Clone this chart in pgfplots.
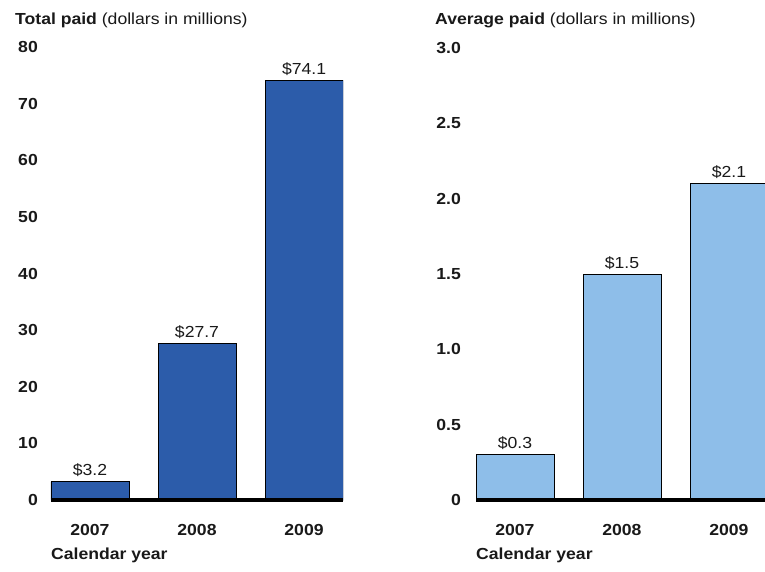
\documentclass[border=0pt]{standalone}
\usepackage{pgfplots}
\pgfplotsset{compat=1.18}
\usepackage{fontspec}
\setmainfont{Liberation Sans}[FakeStretch=1.1]
\definecolor{darkbar}{RGB}{44,92,170}
\definecolor{lightbar}{RGB}{142,190,233}
\definecolor{txt}{RGB}{25,25,25}
\begin{document}
\fontsize{16}{18}\selectfont
\begin{tikzpicture}
\useasboundingbox (0,0) rectangle (765pt,571pt);
\pgfplotsset{
 panel/.style={
  scale only axis, anchor=south west,
  xmin=-0.364, ymin=0,
  axis x line*=bottom, axis y line*=left,
  y axis line style={draw=none},
  x axis line style={line width=3.5pt, black},
  major tick length=0pt,
  xtick={0,1,2}, xticklabels={2007,2008,2009},
  xticklabel style={anchor=base, inner sep=0pt, yshift=-35pt, font=\fontsize{16}{18}\selectfont\bfseries, text=txt},
  yticklabel style={anchor=east, inner sep=0pt, font=\fontsize{16}{18}\selectfont\bfseries, text=txt},
  axis on top,
  ybar, bar width=0.728, bar shift=0pt,
  nodes near coords={\$\pgfmathprintnumber[fixed,fixed zerofill,precision=1,assume math mode=true]{\pgfplotspointmeta}},
  nodes near coords style={anchor=base, inner sep=0pt, yshift=6pt, text=txt, font=\fontsize{16}{18}\selectfont},
  xlabel={\bfseries Calendar year},
  xlabel style={at={(axis description cs:0,0)}, anchor=base west, inner sep=0pt, yshift=-59pt, text=txt, font=\fontsize{16}{18}\selectfont},
  clip mode=individual,
 }
}
\begin{axis}[panel, at={(51pt,71pt)}, width=292pt, height=453pt, xmax=2.364, ymax=80,
  ytick={0,10,20,30,40,50,60,70,80}, yticklabels={0,10,20,30,40,50,60,70,80},
  yticklabel style={xshift=-13pt}]
\addplot[fill=darkbar, draw=black, line width=0.8pt] coordinates {(0,3.2) (1,27.7) (2,74.1)};
\node[anchor=base west, inner sep=0pt, text=txt] at (axis description cs:-0.1233,1.0486) {\textbf{Total paid} (dollars in millions)};
\end{axis}
\begin{axis}[panel, at={(476pt,71pt)}, width=289pt, height=452pt, xmax=2.337, ymax=3,
  ytick={0,0.5,1,1.5,2,2.5,3}, yticklabels={0,0.5,1.0,1.5,2.0,2.5,3.0},
  yticklabel style={xshift=-15pt}]
\addplot[fill=lightbar, draw=black, line width=0.8pt] coordinates {(0,0.3) (1,1.5) (2,2.1)};
\node[anchor=base west, inner sep=0pt, text=txt] at (axis description cs:-0.1419,1.0509) {\textbf{Average paid} (dollars in millions)};
\end{axis}
\end{tikzpicture}
\end{document}
